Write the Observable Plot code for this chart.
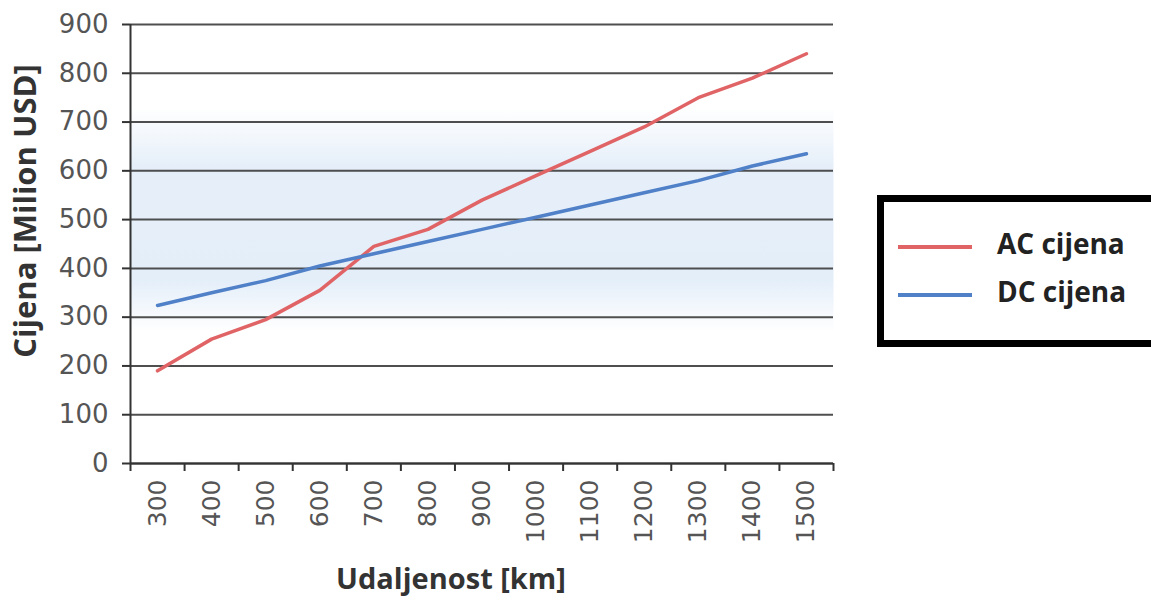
<!DOCTYPE html>
<html>
<head>
<meta charset="utf-8">
<script src="https://cdn.jsdelivr.net/npm/d3@7"></script>
<script src="https://cdn.jsdelivr.net/npm/@observablehq/plot@0.6"></script>
<style>
  html, body { margin: 0; padding: 0; background: #fff; }
  #wrap { position: relative; width: 1151px; height: 604px; overflow: hidden; font-family: "Open Sans", sans-serif; }
  #legend { position: absolute; left: 877px; top: 195px; width: 300px; height: 152px; box-sizing: border-box; border: 7px solid #000; background: #fff; }
  .item { position: absolute; left: 14px; display: flex; align-items: center; font-weight: bold; font-size: 28px; color: #222; }
  .swatch { width: 74px; height: 4px; margin-right: 25px; margin-top: 8px; }
</style>
</head>
<body>
<svg width="0" height="0" style="position:absolute">
  <defs>
    <linearGradient id="bgband" x1="0" y1="0" x2="0" y2="1">
      <stop offset="0" stop-color="#ffffff"/>
      <stop offset="0.19" stop-color="#ffffff"/>
      <stop offset="0.32" stop-color="#e6eff9"/>
      <stop offset="0.58" stop-color="#e4eef9"/>
      <stop offset="0.70" stop-color="#ffffff"/>
      <stop offset="1" stop-color="#ffffff"/>
    </linearGradient>
  </defs>
</svg>
<div id="wrap"></div>
<script>
const categories = [300, 400, 500, 600, 700, 800, 900, 1000, 1100, 1200, 1300, 1400, 1500];
const acValues = [190, 255, 295, 355, 445, 480, 540, 590, 640, 690, 750, 790, 840];
const dcValues = [324, 350, 375, 405, 430, 455, 480, 505, 530, 555, 580, 610, 635];
const yTicks = [0, 100, 200, 300, 400, 500, 600, 700, 800, 900];
const seriesNames = ["AC cijena", "DC cijena"];
const seriesColors = ["#e06466", "#4f80c8"];
const yTitle = "Cijena [Milion USD]";
const xTitle = "Udaljenost [km]";

const rows = [];
categories.forEach((c, i) => {
  rows.push({x: c, y: acValues[i], s: seriesNames[0]});
  rows.push({x: c, y: dcValues[i], s: seriesNames[1]});
});
const bounds = categories.map(c => c - 50).concat([categories[categories.length - 1] + 50]);

const chart = Plot.plot({
  width: 1151,
  height: 604,
  marginLeft: 130,
  marginRight: 318,
  marginTop: 24,
  marginBottom: 141,
  style: {fontFamily: "Open Sans, sans-serif", background: "transparent"},
  x: {type: "linear", domain: [bounds[0], bounds[bounds.length - 1]]},
  y: {domain: [0, 900]},
  color: {domain: seriesNames, range: seriesColors},
  marks: [
    Plot.frame({fill: "url(#bgband)", stroke: "none"}),
    Plot.gridY(yTicks, {stroke: "#3c3c3c", strokeOpacity: 0.9, strokeWidth: 2}),
    Plot.ruleX([bounds[0]], {stroke: "#333", strokeWidth: 2}),
    Plot.ruleY([0], {stroke: "#333", strokeWidth: 2}),
    Plot.axisY(yTicks, {tickSize: 8, tickPadding: 14, fontSize: 26, fontFamily: "DejaVu Sans", fill: "#555", stroke: "#333", strokeWidth: 2, label: null}),
    Plot.axisX(bounds, {tickSize: 8, tickFormat: () => "", stroke: "#333", strokeWidth: 2, label: null}),
    Plot.axisX(categories, {tickSize: 0, tickPadding: 16, tickRotate: -90, fontSize: 25, fontFamily: "DejaVu Sans", fill: "#555", tickFormat: d => String(d), label: null}),
    Plot.line(rows, {x: "x", y: "y", z: "s", stroke: "s", strokeWidth: 3.5}),
    Plot.text([yTitle], {frameAnchor: "left", dx: -104, dy: -33, rotate: -90, textAnchor: "middle", fontSize: 31, fontWeight: "bold", fill: "#333"}),
    Plot.text([xTitle], {frameAnchor: "bottom", dy: 125, dx: -31, fontSize: 29, fontWeight: "bold", fill: "#333"})
  ]
});
const wrap = document.getElementById("wrap");
wrap.appendChild(chart);

const legend = document.createElement("div");
legend.id = "legend";
seriesNames.forEach((name, i) => {
  const item = document.createElement("div");
  item.className = "item";
  item.style.top = (i === 0 ? 22 : 70) + "px";
  const sw = document.createElement("span");
  sw.className = "swatch";
  sw.style.background = seriesColors[i];
  const t = document.createElement("span");
  t.textContent = name;
  item.appendChild(sw);
  item.appendChild(t);
  legend.appendChild(item);
});
wrap.appendChild(legend);
</script>
</body>
</html>
